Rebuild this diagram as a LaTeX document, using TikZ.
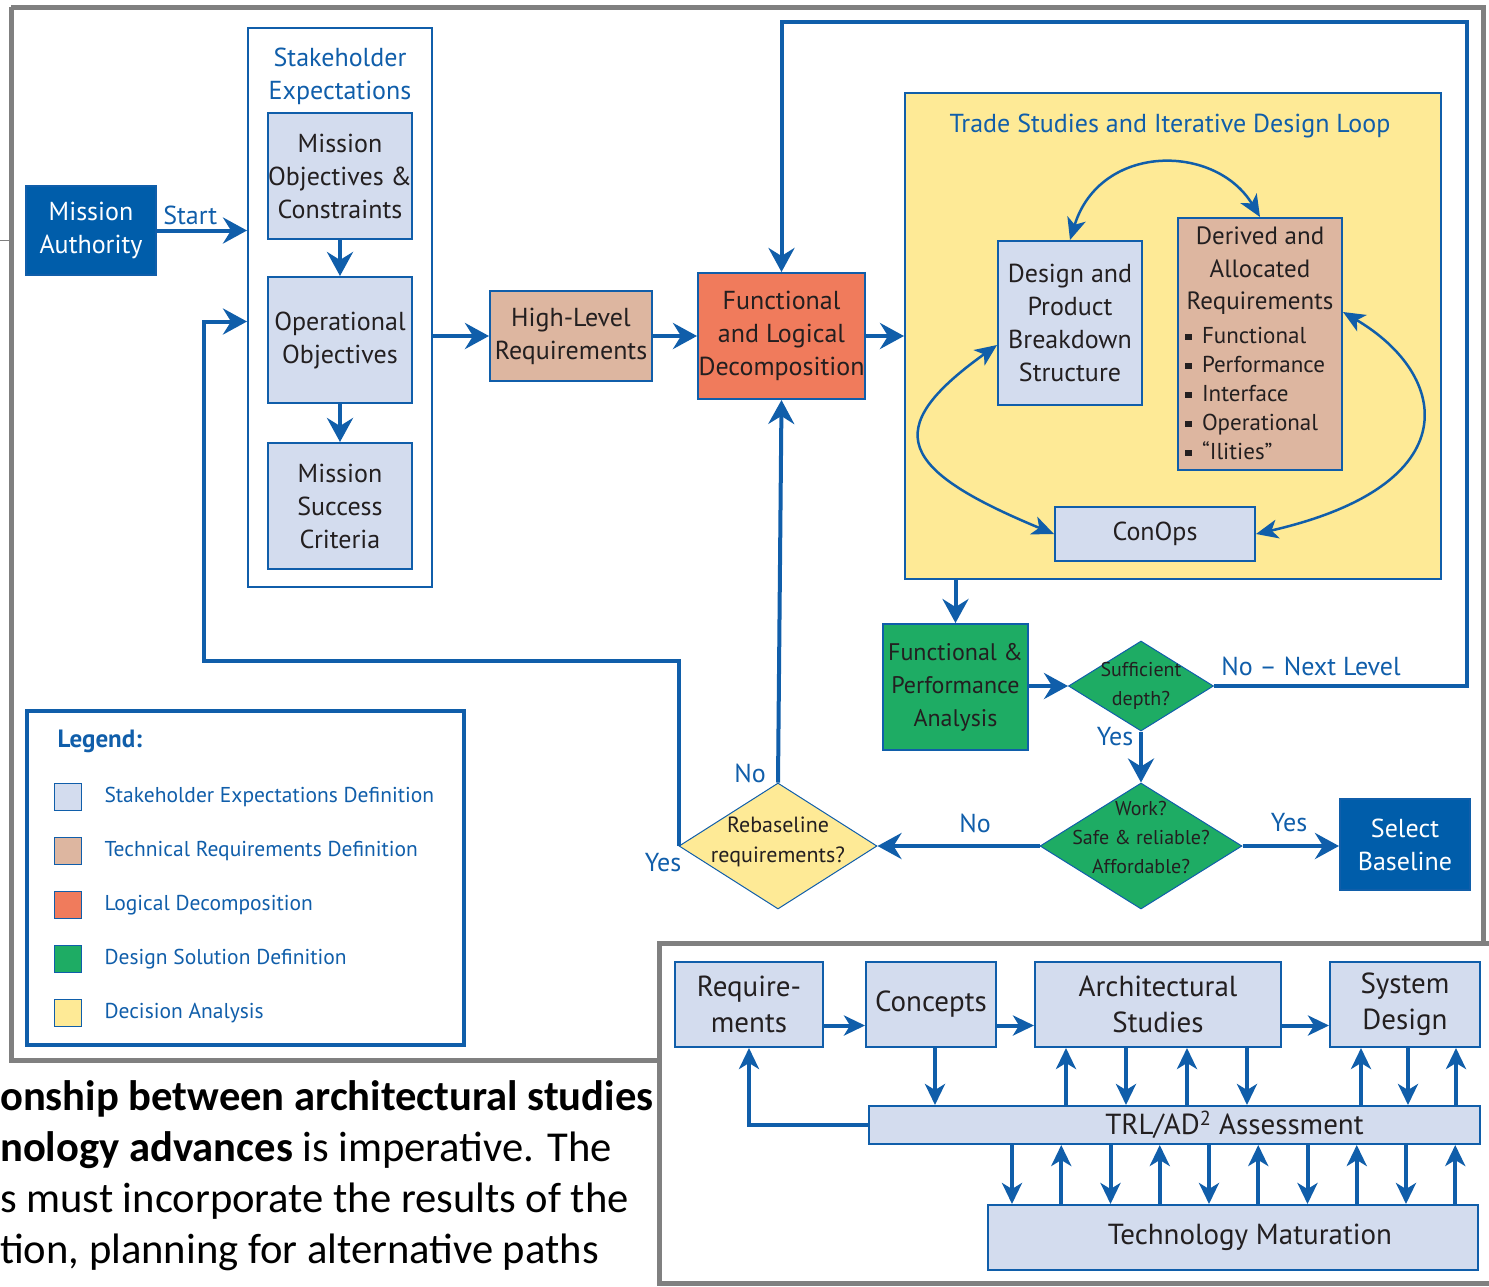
\documentclass[tikz,border=0pt]{standalone}
\usepackage{fontspec}
\setmainfont{PT Sans}
\newfontfamily\slidefont{Carlito}
\usetikzlibrary{arrows.meta,shapes.geometric}

\definecolor{nblue}{RGB}{16,94,170}
\definecolor{darkblue}{RGB}{0,93,170}
\definecolor{sefill}{RGB}{211,220,238}
\definecolor{trfill}{RGB}{221,182,160}
\definecolor{ldfill}{RGB}{240,123,92}
\definecolor{dsgreen}{RGB}{30,172,100}
\definecolor{dayellow}{RGB}{254,234,150}
\definecolor{txtdark}{RGB}{35,31,32}
\definecolor{framegray}{RGB}{128,128,128}

\newcommand{\bxfont}{\fontsize{26}{33}\selectfont}
\newcommand{\blfont}{\fontsize{23}{29}\selectfont}
\newcommand{\dmfont}{\fontsize{20}{29}\selectfont}
\newcommand{\rbfont}{\fontsize{22}{30}\selectfont}
\newcommand{\lgfont}{\fontsize{21.5}{26}\selectfont}
\newcommand{\pnfont}{\fontsize{29}{36}\selectfont}
\newcommand{\slidetext}{\slidefont\fontsize{42.6}{51}\selectfont}
\newcommand{\sqbul}{\rule[0.12em]{0.28em}{0.28em}\hspace{0.45em}}

\begin{document}
\begin{tikzpicture}[x=1pt, y=-1pt,
  box/.style={draw=nblue, line width=2pt, fill=sefill, inner sep=0pt, align=center, text=txtdark, font=\bxfont},
  trbox/.style={box, fill=trfill},
  ldbox/.style={box, fill=ldfill},
  dsbox/.style={box, fill=dsgreen},
  dark/.style={box, fill=darkblue, text=white},
  dia/.style={diamond, draw=nblue, line width=1pt, inner sep=0pt},
  dtxt/.style={align=center, text=txtdark, font=\dmfont, inner sep=0pt},
  txt/.style={align=center, text=txtdark, font=\bxfont, inner sep=0pt},
  lbl/.style={align=center, text=nblue, font=\bxfont, inner sep=0pt},
  pbox/.style={box, font=\pnfont},
  arr/.style={draw=nblue, line width=4pt, -{Stealth[length=24pt, width=26pt, inset=8pt]}},
  carr/.style={draw=nblue, line width=2.5pt, {Stealth[length=22pt, width=19pt, inset=6pt]}-{Stealth[length=22pt, width=19pt, inset=6pt]}},
  barr/.style={draw=nblue, line width=4pt, -{Stealth[length=21pt, width=20pt, inset=6pt]}},
  frame/.style={draw=framegray, line width=5pt},
]
\useasboundingbox (0,0) rectangle (1489,1286);

% Frames of the two pictures
\draw[frame] (11,7) -- (1483,7) -- (1483,943);
\draw[frame] (11,7) -- (11,1060) -- (659,1060);
\draw[frame] (1489,943) -- (659,943) -- (659,1283) -- (1489,1283);
\draw[framegray, line width=1pt] (0,240) -- (9,240);

% Mission authority and stakeholder expectations
\node[dark, minimum width=130pt, minimum height=89pt] (ma) at (91,230.5) {Mission\\Authority};
\node[draw=nblue, line width=2pt, minimum width=184pt, minimum height=559pt, inner sep=0pt] (se) at (340,307.5) {};
\node[lbl] (setitle) at (340,76.5) {Stakeholder\\Expectations};
\node[box, minimum width=144pt, minimum height=126pt] (moc) at (340,176) {Mission\\Objectives \&\\Constraints};
\node[box, minimum width=144pt, minimum height=126pt] (opo) at (340,340) {Operational\\Objectives};
\node[box, minimum width=144pt, minimum height=126pt] (msc) at (340,506) {Mission\\Success\\Criteria};
\path (se.west) ++(0,14) coordinate (sein);

% Requirements and decomposition
\node[trbox, minimum width=162pt, minimum height=90pt] (hlr) at (571,336) {High-Level\\Requirements};
\node[ldbox, minimum width=167pt, minimum height=126pt] (fld) at (781.5,336) {Functional\\and Logical\\Decomposition};

% Trade studies loop
\node[box, fill=dayellow, minimum width=536pt, minimum height=486pt] (tsl) at (1173,336) {};
\node[lbl] (tsltitle) at (1170,126) {Trade Studies and Iterative Design Loop};
\node[box, minimum width=144pt, minimum height=164pt] (dpbs) at (1070,323) {Design and\\Product\\Breakdown\\Structure};
\node[trbox, minimum width=164pt, minimum height=252pt] (dar) at (1260,344) {};
\node[txt, font=\fontsize{25}{32.5}\selectfont] (darh) at (1260,271) {Derived and\\Allocated\\Requirements};
\node[txt, font=\blfont, align=left, anchor=west] (darl) at (1185,393) {\sqbul Functional\\\sqbul Performance\\\sqbul Interface\\\sqbul Operational\\\sqbul ``Ilities''};
\node[box, minimum width=200pt, minimum height=54pt] (conops) at (1155,534) {ConOps};

\draw[carr] (dpbs.north) .. controls (1100,143) and (1215,143) .. (dar.north);
\draw[carr] ([yshift=-22pt]dpbs.west) .. controls (878,430) and (900,470) .. (conops.west);
\draw[carr] ([yshift=32pt]dar.east) .. controls (1450,375) and (1470,485) .. (conops.east);

% Design solution and decisions
\node[dsbox, minimum width=145pt, minimum height=126pt, font=\fontsize{24}{33}\selectfont] (fpa) at (955.5,687) {Functional \&\\Performance\\Analysis};
\node[dia, fill=dsgreen, minimum width=145pt, minimum height=90pt] (suf) at (1141,686) {};
\node[dtxt] (suft) at (suf) {Sufficient\\depth?};
\node[dia, fill=dsgreen, minimum width=202pt, minimum height=126pt] (work) at (1141,846) {};
\node[dtxt] (workt) at ([yshift=9pt]work.center) {Work?\\Safe \& reliable?\\Affordable?};
\node[dia, fill=dayellow, minimum width=198pt, minimum height=126pt] (reb) at (778,846) {};
\node[dtxt, font=\rbfont] (rebt) at ([yshift=4pt]reb.center) {Rebaseline\\requirements?};
\node[dark, minimum width=130pt, minimum height=91pt] (sb) at (1405,844.5) {Select\\Baseline};

% Connectors
\draw[arr] (ma.east) -- node[lbl, above=4pt, pos=0.37] (start) {Start} (ma.east -| se.west);
\draw[arr] (moc) -- (opo);
\draw[arr] (opo) -- (msc);
\draw[arr] (se.east |- hlr.west) -- (hlr.west);
\draw[arr] (hlr) -- (fld);
\draw[arr] (fld.east) -- (fld.east -| tsl.west);
\draw[arr] (tsl.south -| fpa.north) -- (fpa.north);
\draw[arr] (fpa.east |- suf.west) -- (suf.west);
\draw[arr] (suf.south) -- (work.north);
\draw[arr] (work.east) -- (work.east -| sb.west);
\draw[arr] (work.west) -- (reb.east);
\draw[arr] (reb.north) -- (fld.south);
\draw[arr] (suf.east) -| (1467,22) -| (fld.north);
\draw[arr] (reb.west) |- (204,661) |- (sein);

% Labels
\node[lbl] (nonext) at (1311,666) {No -- Next Level};
\node[lbl] (yes1) at (1115,737) {Yes};
\node[lbl] (yes2) at (1289,823) {Yes};
\node[lbl] (no1) at (975,823) {No};
\node[lbl] (no2) at (750,773) {No};
\node[lbl] (yes3) at (663,863) {Yes};

% Legend
\node[draw=nblue, line width=3.5pt, minimum width=437pt, minimum height=334pt, inner sep=0pt] (leg) at (245.5,878) {};
\node[anchor=west, text=nblue, font=\bfseries\fontsize{25}{30}\selectfont] (legt) at (54,741) {Legend:};
\foreach \c/\t [count=\i] in {sefill/Stakeholder Expectations Definition, trfill/Technical Requirements Definition, ldfill/Logical Decomposition, dsgreen/Design Solution Definition, dayellow/Decision Analysis}{
  \pgfmathsetmacro{\yy}{797+54*(\i-1)}
  \node[draw=nblue, line width=1.5pt, fill=\c, minimum size=27pt, inner sep=0pt] (sw\i) at (68,\yy) {};
  \node[anchor=west, text=nblue, font=\lgfont] (lt\i) at (101,\yy) {\t};
}

% Slide text
\node[anchor=base west, inner sep=0pt, font=\slidetext] (p1) at (0,1110) {\bfseries onship between architectural studies};
\node[anchor=base west, inner sep=0pt, font=\slidetext] (p2) at (0,1161) {\textbf{nology advances} is imperative. The};
\node[anchor=base west, inner sep=0pt, font=\slidetext] (p3) at (0,1212) {s must incorporate the results of the};
\node[anchor=base west, inner sep=0pt, font=\slidetext] (p4) at (0,1263) {tion, planning for alternative paths};

% Technology maturation panel
\node[pbox, minimum width=148pt, minimum height=85pt] (req) at (749,1004.5) {Require-\\ments};
\node[pbox, minimum width=130pt, minimum height=85pt] (con) at (931,1004.5) {Concepts};
\node[pbox, minimum width=246pt, minimum height=85pt] (arch) at (1158,1004.5) {Architectural\\Studies};
\node[pbox, minimum width=150pt, minimum height=85pt] (sysd) at (1405,1004.5) {System\\Design};
\node[pbox, minimum width=611pt, minimum height=38pt] (trl) at (1174.5,1125) {\hspace*{120pt}TRL/AD\textsuperscript{2} Assessment};
\node[pbox, minimum width=490pt, minimum height=65pt] (tm) at (1233,1237.5) {\hspace*{34pt}Technology Maturation};

\draw[barr] ([yshift=-21pt]req.east) -- ([yshift=-21pt]con.west);
\draw[barr] ([yshift=-21pt]con.east) -- ([yshift=-21pt]arch.west);
\draw[barr] ([yshift=-21pt]arch.east) -- ([yshift=-21pt]sysd.west);
\draw[barr] (trl.west) -| (req.south);
\draw[barr] ([xshift=4pt]con.south) -- ([xshift=4pt]trl.north -| con.south);
\foreach \dx in {-92,29}
  \draw[barr] ([xshift=\dx pt]trl.north -| arch.south) -- ([xshift=\dx pt]arch.south);
\foreach \dx in {-32,89}
  \draw[barr] ([xshift=\dx pt]arch.south) -- ([xshift=\dx pt]trl.north -| arch.south);
\foreach \dx in {-44,51}
  \draw[barr] ([xshift=\dx pt]trl.north -| sysd.south) -- ([xshift=\dx pt]sysd.south);
\draw[barr] ([xshift=3pt]sysd.south) -- ([xshift=3pt]trl.north -| sysd.south);
\foreach \i in {0,...,9}{
  \pgfmathsetmacro{\dx}{-221+49.25*\i}
  \ifodd\i
    \draw[barr] ([xshift=\dx pt]tm.north) -- ([xshift=\dx pt]tm.north |- trl.south);
  \else
    \draw[barr] ([xshift=\dx pt]tm.north |- trl.south) -- ([xshift=\dx pt]tm.north);
  \fi
}

\end{tikzpicture}
\end{document}
